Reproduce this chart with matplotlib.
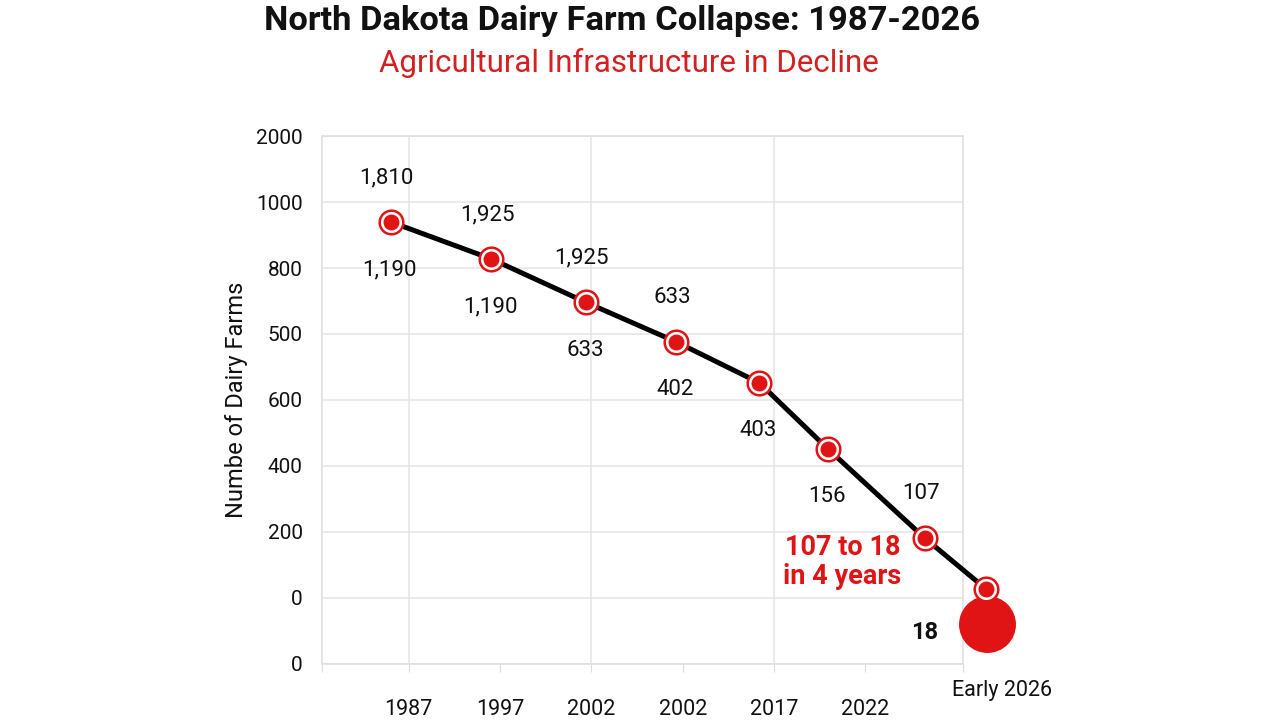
import numpy as np
import matplotlib.pyplot as plt

plt.rcParams['font.family'] = ['Roboto', 'DejaVu Sans']

RED = '#e01414'

# point positions along the drawn axes (x in tick steps, y on the drawn scale)
point_x = [-0.2, 0.9, 1.94, 2.93, 3.84, 4.59, 5.65, 6.32]
point_y = [1340, 1228, 1096, 976, 852, 652, 382, 228]
labels_above = ['1,810', '1,925', '1,925', '633', '', '', '107', '']
labels_below = ['1,190', '1,190', '633', '402', '403', '156', '', '']

final_x = 6.33
final_y = 122
final_label = '18'

y_ticks = [0, 200, 400, 600, 800, 1000, 1200, 1400, 1600]
y_tick_labels = ['0', '0', '200', '400', '600', '500', '800', '1000', '2000']
x_ticks = [-0.95, 0, 1, 2, 3, 4, 5, 6.07]
x_tick_labels = ['', '1987', '1997', '2002', '2002', '2017', '2022', '']
last_x_label = 'Early 2026'

fig = plt.figure(figsize=(12.8, 7.2), dpi=100)
ax = fig.add_axes([0.2516, 0.0778, 0.5007, 0.7333])

ax.set_xlim(-0.95, 6.07)
ax.set_ylim(0, 1600)
ax.set_yticks(y_ticks)
ax.set_yticklabels(y_tick_labels)
ax.set_xticks(x_ticks)
ax.set_xticklabels(x_tick_labels)

ax.grid(axis='y', color='#e6e6e6', linewidth=1.2)
for gx in [0, 2, 4]:
    ax.axvline(gx, color='#e6e6e6', linewidth=1.2, zorder=0)
for s in ax.spines.values():
    s.set_color('#e0e0e0')
    s.set_linewidth(1.2)
ax.tick_params(axis='y', length=0, labelsize=15, pad=14, colors='#111111')
ax.tick_params(axis='x', length=6, color='#dddddd', labelsize=15.5, pad=19, colors='#111111')

ax.text(6.5, -0.03, last_x_label, transform=ax.get_xaxis_transform(),
        ha='center', va='top', fontsize=15.5, color='#111111')

ax.set_ylabel('Numbe of Dairy Farms', fontsize=17, labelpad=6, color='#111111')

# big final marker
ax.plot([final_x], [final_y], 'o', ms=41, color=RED, mec='none', zorder=3, clip_on=False)
ax.annotate(final_label, (final_x, final_y), xytext=(-62, -9), textcoords='offset pixels',
            ha='center', va='center', fontsize=17, fontweight='bold', color='#111111',
            annotation_clip=False)

ax.plot(point_x, point_y, color='black', linewidth=3.6, zorder=4, clip_on=False,
        solid_capstyle='round')
ax.plot(point_x, point_y, 'o', ms=17, mfc='white', mec=RED, mew=1.8, linestyle='none',
        zorder=5, clip_on=False)
ax.plot(point_x, point_y, 'o', ms=11.5, mfc=RED, mec='none', linestyle='none',
        zorder=6, clip_on=False)

for x, y, a, b in zip(point_x, point_y, labels_above, labels_below):
    if a:
        ax.annotate(a, (x, y), xytext=(-4, 44), textcoords='offset pixels',
                    ha='center', va='center', fontsize=16, color='#111111',
                    annotation_clip=False)
    if b:
        ax.annotate(b, (x, y), xytext=(-1, -48), textcoords='offset pixels',
                    ha='center', va='center', fontsize=16, color='#111111',
                    annotation_clip=False)

ax.annotate('107 to 18\nin 4 years', (point_x[6], point_y[6]), xytext=(-82, -24),
            textcoords='offset pixels', ha='center', va='center', fontsize=19.5,
            fontweight='bold', color=RED, linespacing=1.12)

fig.text(0.486, 0.971, 'North Dakota Dairy Farm Collapse: 1987-2026', ha='center', va='center',
         fontsize=24.8, fontweight='bold', color='#111111')
fig.text(0.491, 0.913, 'Agricultural Infrastructure in Decline', ha='center', va='center',
         fontsize=22.5, color='#d42020')

fig.savefig('out.png', dpi=100)
